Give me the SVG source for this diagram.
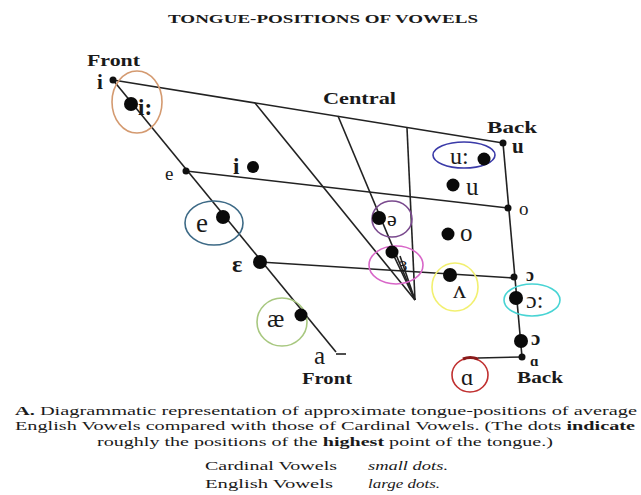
<svg xmlns="http://www.w3.org/2000/svg" width="641" height="495" viewBox="0 0 641 495">
<style>
text{font-family:"Liberation Serif","DejaVu Serif",serif;fill:#1a1a1a}
.t{font-size:13px;font-weight:bold}
.lb{font-size:16px;font-weight:bold}
.cv{font-size:17px;font-weight:bold}
.ev{font-size:25px}
.cap{font-size:13px}
.ln{stroke:#222;stroke-width:1.6;fill:none}
.sd{fill:#111}
.ld{fill:#0a0a0a}
.ring{fill:none;stroke-width:1.6}
</style>
<rect width="641" height="495" fill="#fff"/>
<text class="t" x="168" y="23" textLength="310" lengthAdjust="spacingAndGlyphs">TONGUE-POSITIONS OF VOWELS</text>

<g id="connectors">
<line class="ln" x1="113" y1="80" x2="503" y2="143"/>
<line class="ln" x1="113" y1="80" x2="336" y2="352"/>
<line class="ln" x1="186" y1="171" x2="508" y2="208"/>
<line class="ln" x1="260" y1="262" x2="514" y2="278"/>
<line class="ln" x1="503" y1="143" x2="522" y2="357"/>
<line class="ln" x1="255" y1="103" x2="415" y2="300"/>
<line class="ln" x1="338" y1="116" x2="415" y2="300"/>
<line class="ln" x1="407" y1="128" x2="415" y2="300"/>
<line class="ln" x1="392" y1="252" x2="415" y2="300" stroke-width="1"/>
<line class="ln" x1="400" y1="256" x2="415" y2="300" stroke-width="1"/>
<line class="ln" x1="478" y1="358" x2="522" y2="357"/>
<line class="ln" x1="336" y1="354" x2="346" y2="354"/>
</g>

<g id="front-label"><text class="lb" x="87" y="66" textLength="53" lengthAdjust="spacingAndGlyphs">Front</text></g>
<g id="central-label"><text class="lb" x="323" y="104" textLength="73" lengthAdjust="spacingAndGlyphs">Central</text></g>
<g id="back-label"><text class="lb" x="487" y="133" textLength="50" lengthAdjust="spacingAndGlyphs">Back</text></g>
<g id="front-bottom-label"><text class="lb" x="302" y="384" textLength="50" lengthAdjust="spacingAndGlyphs">Front</text></g>
<g id="back-bottom-label"><text class="lb" x="517" y="383" textLength="46" lengthAdjust="spacingAndGlyphs">Back</text></g>

<g id="card-i"><circle class="sd" cx="113" cy="80" r="3.5"/><text class="cv" x="97" y="89" style="font-size:21px">i</text></g>
<g id="eng-i-long"><ellipse class="ring" cx="137" cy="102" rx="25" ry="31" stroke="#d49a70"/><circle class="ld" cx="131" cy="104" r="7"/><text class="ev" x="138" y="115" style="font-weight:bold;font-size:23px">i:</text></g>
<g id="card-e"><circle class="sd" cx="186" cy="171" r="3.5"/><text class="cv" x="165" y="180" style="font-weight:normal;font-size:19px">e</text></g>
<g id="eng-i"><circle class="ld" cx="253" cy="167" r="6"/><text class="ev" x="233" y="174" style="font-weight:bold;font-size:23px">i</text></g>
<g id="eng-e"><ellipse class="ring" cx="214" cy="223" rx="29" ry="22" stroke="#3d6a86"/><circle class="ld" cx="223" cy="217" r="7"/><text class="ev" x="196" y="232" style="font-size:27px">e</text></g>
<g id="card-eps"><circle class="ld" cx="260" cy="262" r="7"/><text class="ev" x="232" y="272" style="font-weight:bold;font-size:24px">ɛ</text></g>
<g id="eng-ae"><ellipse class="ring" cx="282" cy="322" rx="25" ry="24" stroke="#a8c880"/><circle class="ld" cx="301" cy="315" r="6.5"/><text class="ev" x="267" y="327" style="font-size:26px">æ</text></g>
<g id="card-a"><text class="ev" x="314" y="364" style="font-size:25px">a</text></g>

<g id="eng-schwa"><ellipse class="ring" cx="392" cy="219" rx="20" ry="18" stroke="#7a4a8e"/><circle class="ld" cx="379" cy="218" r="7"/><text class="ev" x="387" y="226" fill="#4a6a4a" style="font-size:22px">ə</text></g>
<g id="eng-er"><ellipse class="ring" cx="396" cy="265" rx="27" ry="19" stroke="#d866c8"/><circle class="ld" cx="392" cy="252" r="6.5"/><text class="ev" x="399" y="271" fill="#5a7a5a" style="font-size:20px">ɜ</text></g>

<g id="eng-u-long"><ellipse class="ring" cx="464" cy="155" rx="31" ry="13" stroke="#3a3aa8"/><circle class="ld" cx="484" cy="159" r="6.5"/><text class="ev" x="450" y="164" style="font-size:24px">u:</text></g>
<g id="card-u"><circle class="sd" cx="503" cy="143" r="3.5"/><text class="cv" x="512" y="153" style="font-size:21px">u</text></g>
<g id="eng-u"><circle class="ld" cx="453" cy="185" r="6.5"/><text class="ev" x="466" y="195" style="font-size:25px">u</text></g>
<g id="card-o"><circle class="sd" cx="508" cy="208" r="3.5"/><text class="cv" x="519" y="215" style="font-weight:normal;font-size:19px">o</text></g>
<g id="eng-o"><circle class="ld" cx="448" cy="234" r="6.5"/><text class="ev" x="460" y="241" style="font-size:25px">o</text></g>
<g id="eng-wedge"><ellipse class="ring" cx="455" cy="287" rx="23" ry="24" stroke="#f2f070"/><circle class="ld" cx="450" cy="275" r="7"/><text class="ev" x="453" y="298" style="font-size:26px">ʌ</text></g>
<g id="card-open-o"><circle class="sd" cx="514" cy="277" r="3.5"/><text class="cv" x="526" y="281" style="font-size:18px">ɔ</text></g>
<g id="eng-open-o-long"><ellipse class="ring" cx="532" cy="300" rx="28" ry="16" stroke="#48d4d4"/><circle class="ld" cx="516" cy="298" r="7"/><text class="ev" x="526" y="308" style="font-size:24px">ɔ:</text></g>
<g id="eng-open-o"><circle class="ld" cx="521" cy="341" r="7"/><text class="ev" x="531" y="345" style="font-size:21px;font-weight:bold">ɔ</text></g>
<g id="card-alpha"><circle class="sd" cx="522" cy="357" r="3.5"/><text class="cv" x="530" y="366" style="font-size:15px">ɑ</text></g>
<g id="eng-alpha"><ellipse class="ring" cx="470" cy="375" rx="18" ry="17" stroke="#c03030"/><path d="M463 359 Q470 356 478 359" stroke="#8a1a1a" stroke-width="3" fill="none"/><text class="ev" x="461" y="385" fill="#2a6868" style="font-size:24px">ɑ</text></g>

<g id="caption">
<text class="cap" x="15" y="415" textLength="622" lengthAdjust="spacingAndGlyphs"><tspan font-weight="bold">A.</tspan> Diagrammatic representation of approximate tongue-positions of average</text>
<text class="cap" x="15" y="430" textLength="620" lengthAdjust="spacingAndGlyphs">English Vowels compared with those of Cardinal Vowels.   (The dots <tspan font-weight="bold">indicate</tspan></text>
<text class="cap" x="97" y="446" textLength="456" lengthAdjust="spacingAndGlyphs">roughly the positions of the <tspan font-weight="bold">highest</tspan> point of the tongue.)</text>
<text class="cap" x="205" y="470" textLength="132" lengthAdjust="spacingAndGlyphs">Cardinal Vowels</text>
<text class="cap" x="368" y="470" font-style="italic" textLength="80" lengthAdjust="spacingAndGlyphs">small dots.</text>
<text class="cap" x="205" y="488" textLength="128" lengthAdjust="spacingAndGlyphs">English Vowels</text>
<text class="cap" x="368" y="488" font-style="italic" textLength="72" lengthAdjust="spacingAndGlyphs">large dots.</text>
</g>
</svg>
